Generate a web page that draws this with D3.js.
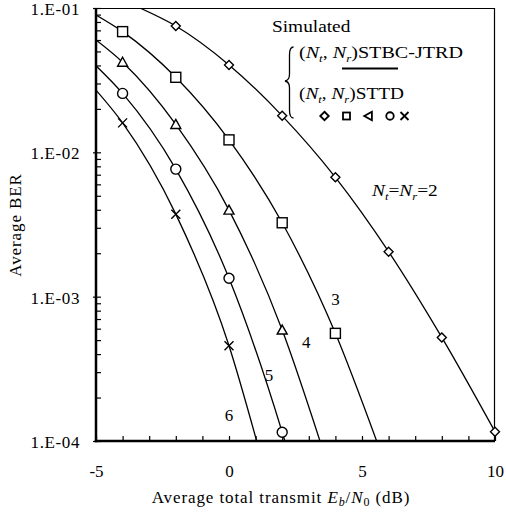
<!DOCTYPE html>
<html>
<head>
<meta charset="utf-8">
<script src="https://cdn.jsdelivr.net/npm/d3@7"></script>
<style>
  html, body { margin: 0; padding: 0; background: #fff; }
  svg { display: block; }
  text { font-family: "Liberation Serif", "Times New Roman", serif; fill: #000; }
</style>
</head>
<body>
<svg id="chart" width="506" height="512"></svg>
<script>
// ---------- data ----------
const xTickValues = [-5, 0, 5, 10];
const xTickLabels = ["-5", "0", "5", "10"];
const yTickValues = [1e-4, 1e-3, 1e-2, 1e-1];
const yTickLabels = ["1.E-04", "1.E-03", "1.E-02", "1.E-01"];

// analytical curves (STBC-JTRD), [Eb/N0 dB, BER]
const lineNt2 = [[-3.35, 0.1], [-2, 0.075], [0, 0.0403], [2, 0.0179], [4, 0.00671], [6, 0.00205], [8, 0.000522], [10, 0.000116]];
const lineNt3 = [[-5, 0.0894], [-4, 0.0686], [-2, 0.0331], [0, 0.0122], [2, 0.00325], [4, 0.000557], [5.55, 0.0001]];
const lineNt4 = [[-5, 0.06], [-4, 0.0421], [-2, 0.0156], [0, 0.00398], [2, 0.000587], [3.42, 0.0001]];
const lineNt5 = [[-5, 0.0398], [-4, 0.0256], [-2, 0.00765], [0, 0.00134], [2, 0.000115], [2.1, 0.0001]];
const lineNt6 = [[-5, 0.027], [-4, 0.016], [-2, 0.00373], [0, 0.000457], [1.04, 0.0001]];

// simulated points (STTD)
const simNt2 = [[-2, 0.075], [0, 0.0403], [2, 0.0179], [4, 0.00671], [6, 0.00205], [8, 0.000522], [10, 0.000116]];
const simNt3 = [[-4, 0.0686], [-2, 0.0331], [0, 0.0122], [2, 0.00325], [4, 0.000557]];
const simNt4 = [[-4, 0.0421], [-2, 0.0156], [0, 0.00398], [2, 0.000587]];
const simNt5 = [[-4, 0.0256], [-2, 0.00765], [0, 0.00134], [2, 0.000115]];
const simNt6 = [[-4, 0.016], [-2, 0.00373], [0, 0.000457]];

const curveLabels = [
  { text: "3", snr: 4.0, ber: 0.00088 },
  { text: "4", snr: 2.9, ber: 0.00044 },
  { text: "5", snr: 1.5, ber: 0.00026 },
  { text: "6", snr: 0.0, ber: 0.000137 }
];

// ---------- layout ----------
const svg = d3.select("#chart");
const L = 96, R = 495, T = 8, B = 441;
const x = d3.scaleLinear().domain([-5, 10]).range([L, R]);
const y = d3.scaleLog().domain([1e-4, 1e-1]).range([B, T]);
const FS = 17;

// stretch a text horizontally so it spans a given width from its x start
function fitWidth(sel, x0, width) {
  const bb = sel.node().getBBox();
  const s = width / bb.width;
  sel.attr("transform", `translate(${x0},0) scale(${s},1) translate(${-x0},0)`);
}

// clip
svg.append("defs").append("clipPath").attr("id", "clip")
  .append("rect").attr("x", L).attr("y", T).attr("width", R - L).attr("height", B - T);

// frame (thin top/right)
svg.append("line").attr("x1", L).attr("x2", R).attr("y1", T + 0.5).attr("y2", T + 0.5)
  .attr("stroke", "#000").attr("stroke-width", 1.2);
svg.append("line").attr("x1", R - 0.5).attr("x2", R - 0.5).attr("y1", T).attr("y2", B)
  .attr("stroke", "#000").attr("stroke-width", 1.2);

// minor ticks x (every dB, inward)
const xMinor = d3.axisBottom(x).tickValues(d3.range(-5, 11)).tickSize(-5).tickFormat("");
const gxm = svg.append("g").attr("transform", `translate(0,${B})`).call(xMinor);
gxm.select(".domain").remove();
gxm.selectAll("line").attr("stroke", "#000").attr("stroke-width", 1.2);

// x labels
const xLab = d3.axisBottom(x).tickValues(xTickValues).tickSize(0).tickPadding(24)
  .tickFormat((d, i) => xTickLabels[i]);
const gxl = svg.append("g").attr("transform", `translate(0,${B})`).call(xLab);
gxl.select(".domain").remove();
gxl.selectAll("text").attr("font-size", FS).attr("font-family", "Liberation Serif");

// y minor ticks
const yMinorVals = [];
for (let e = -4; e < -1; e++) for (let m = 2; m <= 9; m++) yMinorVals.push(m * Math.pow(10, e));
const yMinor = d3.axisLeft(y).tickValues(yMinorVals).tickSize(-5).tickFormat("");
const gym = svg.append("g").attr("transform", `translate(${L},0)`).call(yMinor);
gym.select(".domain").remove();
gym.selectAll("line").attr("stroke", "#000").attr("stroke-width", 1.2);

// y major ticks (crossing)
const yMajor = d3.axisLeft(y).tickValues(yTickValues).tickSizeInner(3).tickSizeOuter(0).tickFormat("");
const gyM = svg.append("g").attr("transform", `translate(${L},0)`).call(yMajor);
gyM.select(".domain").remove();
gyM.selectAll("line").attr("x2", -3).attr("x1", 5).attr("stroke", "#000").attr("stroke-width", 1.2);

// y labels
const yLab = d3.axisLeft(y).tickValues(yTickValues).tickSize(0).tickPadding(16)
  .tickFormat((d, i) => yTickLabels[i]);
const gyl = svg.append("g").attr("transform", `translate(${L},0)`).call(yLab);
gyl.select(".domain").remove();
gyl.selectAll("text").attr("font-size", FS).attr("font-family", "Liberation Serif")
  .attr("dy", "0.38em").attr("letter-spacing", 0.6);

// axes lines (thick)
svg.append("line").attr("x1", L).attr("x2", L).attr("y1", T).attr("y2", B + 1.25)
  .attr("stroke", "#000").attr("stroke-width", 2.5);
svg.append("line").attr("x1", L - 1.25).attr("x2", R).attr("y1", B).attr("y2", B)
  .attr("stroke", "#000").attr("stroke-width", 2.5);

// curves
const line = d3.line().x(d => x(d[0])).y(d => y(d[1])).curve(d3.curveMonotoneX);
const plot = svg.append("g").attr("clip-path", "url(#clip)");
[lineNt2, lineNt3, lineNt4, lineNt5, lineNt6].forEach(ln => {
  plot.append("path").datum(ln).attr("d", line)
    .attr("fill", "none").attr("stroke", "#000").attr("stroke-width", 1.3);
});

// marker drawing helpers
function drawMarker(g, type, cx, cy, s, sw) {
  const h = s / 2;
  if (type === "diamond") {
    g.append("path").attr("d", `M${cx},${cy - h}L${cx + h},${cy}L${cx},${cy + h}L${cx - h},${cy}Z`)
      .attr("fill", "#fff").attr("stroke", "#000").attr("stroke-width", sw);
  } else if (type === "square") {
    g.append("rect").attr("x", cx - h).attr("y", cy - h).attr("width", s).attr("height", s)
      .attr("fill", "#fff").attr("stroke", "#000").attr("stroke-width", sw);
  } else if (type === "triangle") {
    g.append("path").attr("d", `M${cx},${cy - h}L${cx + h},${cy + h * 0.8}L${cx - h},${cy + h * 0.8}Z`)
      .attr("fill", "#fff").attr("stroke", "#000").attr("stroke-width", sw);
  } else if (type === "ltriangle") {
    g.append("path").attr("d", `M${cx - h},${cy}L${cx + h * 0.8},${cy - h}L${cx + h * 0.8},${cy + h}Z`)
      .attr("fill", "#fff").attr("stroke", "#000").attr("stroke-width", sw);
  } else if (type === "circle") {
    g.append("circle").attr("cx", cx).attr("cy", cy).attr("r", h)
      .attr("fill", "#fff").attr("stroke", "#000").attr("stroke-width", sw);
  } else if (type === "cross") {
    g.append("path").attr("d", `M${cx - h},${cy - h}L${cx + h},${cy + h}M${cx - h},${cy + h}L${cx + h},${cy - h}`)
      .attr("fill", "none").attr("stroke", "#000").attr("stroke-width", sw);
  }
}

const marks = svg.append("g");
const simSets = [
  { data: simNt2, type: "diamond", size: 9 },
  { data: simNt3, type: "square", size: 10 },
  { data: simNt4, type: "triangle", size: 10 },
  { data: simNt5, type: "circle", size: 10 },
  { data: simNt6, type: "cross", size: 9 }
];
simSets.forEach(s => s.data.forEach(d => drawMarker(marks, s.type, x(d[0]), y(d[1]), s.size, 1.4)));

// curve number labels
svg.selectAll("text.cl").data(curveLabels).join("text").attr("class", "cl")
  .attr("x", d => x(d.snr)).attr("y", d => y(d.ber))
  .attr("text-anchor", "middle").attr("font-size", FS).text(d => d.text);

// Nt=Nr=2 label
const lab2 = svg.append("text").attr("x", 372).attr("y", 196).attr("font-size", FS).attr("font-style", "italic");
lab2.append("tspan").text("N");
lab2.append("tspan").attr("font-size", 11).attr("dy", 4).text("t");
lab2.append("tspan").attr("dy", -4).attr("font-style", "normal").text("=");
lab2.append("tspan").text("N");
lab2.append("tspan").attr("font-size", 11).attr("dy", 4).text("r");
lab2.append("tspan").attr("dy", -4).attr("font-style", "normal").text("=2");
fitWidth(lab2, 372, 67);

// legend
const simT = svg.append("text").attr("x", 272).attr("y", 32).attr("font-size", FS).text("Simulated");
fitWidth(simT, 272, 79);

function nTNr(sel) {
  sel.append("tspan").text("(");
  sel.append("tspan").attr("font-style", "italic").text("N");
  sel.append("tspan").attr("font-style", "italic").attr("font-size", 11).attr("dy", 4).text("t");
  sel.append("tspan").attr("dy", -4).text(", ");
  sel.append("tspan").attr("font-style", "italic").text("N");
  sel.append("tspan").attr("font-style", "italic").attr("font-size", 11).attr("dy", 4).text("r");
  sel.append("tspan").attr("dy", -4).text(")");
}
const leg1 = svg.append("text").attr("x", 299).attr("y", 58).attr("font-size", FS);
nTNr(leg1);
leg1.append("tspan").text("STBC-JTRD");
fitWidth(leg1, 299, 164);
svg.append("line").attr("x1", 342).attr("x2", 398).attr("y1", 68.5).attr("y2", 68.5)
  .attr("stroke", "#000").attr("stroke-width", 2.2);
const leg2 = svg.append("text").attr("x", 299).attr("y", 99).attr("font-size", FS);
nTNr(leg2);
leg2.append("tspan").text("STTD");
fitWidth(leg2, 299, 105);

const legMarks = [
  { type: "diamond", cx: 324.5, size: 8.5 },
  { type: "square", cx: 346.5, size: 7 },
  { type: "ltriangle", cx: 368.5, size: 8.5 },
  { type: "circle", cx: 390, size: 7.5 },
  { type: "cross", cx: 404.5, size: 8 }
];
const lg = svg.append("g");
legMarks.forEach(m => drawMarker(lg, m.type, m.cx, 116, m.size, 1.8));

// brace
svg.append("path")
  .attr("d", "M293.5,47 C290,47 289.5,50 289.5,55 L289.5,74 C289.5,78.5 288,80.5 285,81 C288,81.5 289.5,83.5 289.5,88 L289.5,110 C289.5,115 290,118 293.5,118")
  .attr("fill", "none").attr("stroke", "#000").attr("stroke-width", 1.3);

// axis titles
const xt = svg.append("text").attr("x", 281).attr("y", 503).attr("text-anchor", "middle")
  .attr("font-size", FS).attr("letter-spacing", 0.9);
xt.append("tspan").text("Average total transmit ");
xt.append("tspan").attr("font-style", "italic").text("E");
xt.append("tspan").attr("font-style", "italic").attr("font-size", 12).attr("dy", 3).text("b");
xt.append("tspan").attr("dy", -3).text("/");
xt.append("tspan").attr("font-style", "italic").text("N");
xt.append("tspan").attr("font-size", 12).attr("dy", 3).text("0");
xt.append("tspan").attr("dy", -3).text(" (dB)");

svg.append("text").attr("transform", "translate(21,225) rotate(-90)")
  .attr("text-anchor", "middle").attr("font-size", FS).attr("letter-spacing", 0.9).text("Average BER");
</script>
</body>
</html>
